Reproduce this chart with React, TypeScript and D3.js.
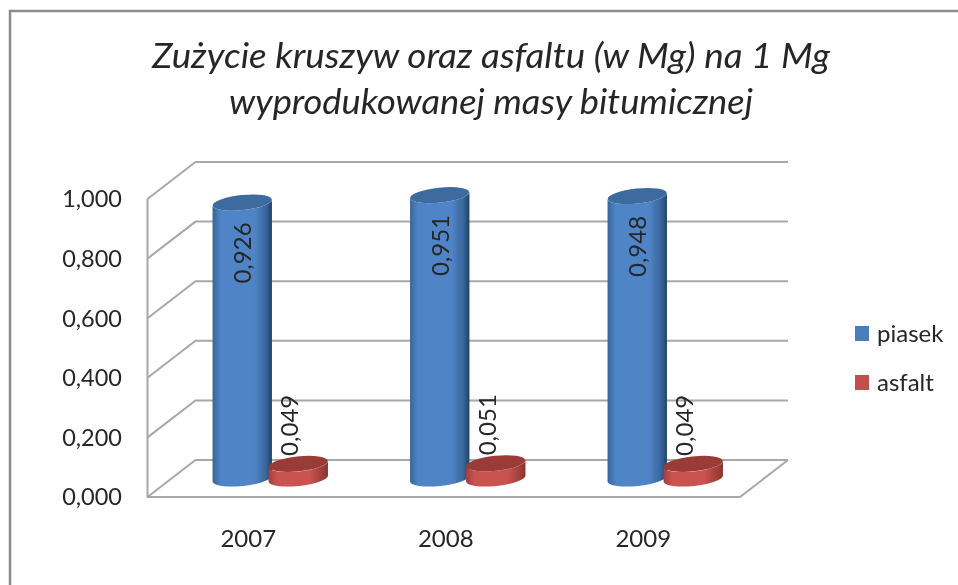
import React from "react";
import * as d3 from "d3";

const categories = ["2007", "2008", "2009"];
const piasek = [0.926, 0.951, 0.948];
const asfalt = [0.049, 0.051, 0.049];
const yTicks = [0, 0.2, 0.4, 0.6, 0.8, 1];
const titleLines = ["Zużycie kruszyw oraz asfaltu (w Mg) na 1 Mg", "wyprodukowanej masy bitumicznej"];
const titleWidths = [678, 524];
const seriesNames = ["piasek", "asfalt"];

const W = 958, H = 585;
const left = 147.5, right = 740, front0 = 497, plotH = 298;
const depthX = 48, depthY = -37;
const RX = 29.7, RY = 7.5, ROT = -6;
const FONT = "Lato, 'Open Sans', sans-serif";
const GRID = "#a8a8a8";
const INK = "#262626";

const x = d3.scaleBand<string>().domain(categories).range([left, right]);
const h = d3.scaleLinear().domain([0, 1]).range([0, plotH]);
const fmt = (v: number) => v.toFixed(3).replace(".", ",");

function Cylinder({ cx, value, fill, top }: { cx: number; value: number; fill: string; top: string }) {
  const base = front0 + depthY / 2;
  const t = base - h(value);
  const a = Math.tan((-ROT * Math.PI) / 180) * RX;
  const body = `M${cx - RX},${t + a} L${cx - RX},${base + a} A${RX},${RY} ${ROT} 0 0 ${cx + RX},${base - a} L${cx + RX},${t - a} A${RX},${RY} ${ROT} 0 1 ${cx - RX},${t + a} Z`;
  return (
    <g>
      <path d={body} fill={`url(#${fill})`} />
      <ellipse cx={cx} cy={t} rx={RX} ry={RY} fill={top} transform={`rotate(${ROT} ${cx} ${t})`} />
    </g>
  );
}

function Grad({ id, edge, mid, dark }: { id: string; edge: string; mid: string; dark: string }) {
  return (
    <linearGradient id={id} x1="0" x2="1" y1="0" y2="0">
      <stop offset="0" stopColor={edge} />
      <stop offset="0.14" stopColor={mid} />
      <stop offset="0.7" stopColor={mid} />
      <stop offset="0.9" stopColor={edge} />
      <stop offset="1" stopColor={dark} />
    </linearGradient>
  );
}

export default function App() {
  const groupCx = (c: string) => (x(c) as number) + x.bandwidth() / 2 + depthX / 2;
  return (
    <svg width={W} height={H} viewBox={`0 0 ${W} ${H}`} style={{ position: "fixed", left: 0, top: 0, background: "#fff" }}>
      <defs>
        <Grad id="gBlue" edge="#38659a" mid="#5085c6" dark="#1f4368" />
        <Grad id="gRed" edge="#a03f3c" mid="#c9524f" dark="#8a3330" />
        <filter id="soft" x="-5%" y="-5%" width="110%" height="110%">
          <feGaussianBlur stdDeviation="0.55" />
        </filter>
      </defs>
      <g filter="url(#soft)">
        <path d={`M10,${H} L10,11 L${W},11`} fill="none" stroke="#8c8c8c" strokeWidth={2.5} />

        {titleLines.map((l, i) => (
          <text
            key={l}
            x={491}
            y={68 + i * 46}
            textAnchor="middle"
            textLength={titleWidths[i]}
            lengthAdjust="spacingAndGlyphs"
            fontFamily={FONT}
            fontStyle="italic"
            fontSize={34}
            fill={INK}
          >
            {l}
          </text>
        ))}

        {yTicks.map((v) => {
          const yF = front0 - h(v);
          const yB = yF + depthY;
          return (
            <path key={v} d={`M${left},${yF} L${left + depthX},${yB} L${right + depthX},${yB}`} fill="none" stroke={GRID} strokeWidth={2} />
          );
        })}
        <path
          d={`M${left},${front0 - h(1)} L${left},${front0} L${right},${front0} L${right + depthX},${front0 + depthY}`}
          fill="none"
          stroke={GRID}
          strokeWidth={2}
        />

        {yTicks.map((v) => (
          <text key={v} x={122} y={front0 - h(v)} dy="0.36em" textAnchor="end" fontFamily={FONT} fontSize={23.5} fill={INK}>
            {fmt(v)}
          </text>
        ))}

        {categories.map((c, i) => {
          const cx = groupCx(c);
          const cxBlue = cx - 28;
          const cxRed = cx + 28;
          const base = front0 + depthY / 2;
          return (
            <g key={c}>
              <Cylinder cx={cxBlue} value={piasek[i]} fill="gBlue" top="#3c6b9f" />
              <Cylinder cx={cxRed} value={asfalt[i]} fill="gRed" top="#9a3b38" />
              <text
                transform={`translate(${cxBlue + 9},${base - h(piasek[i]) + 81}) rotate(-90)`}
                fontFamily={FONT}
                fontSize={24}
                fill={INK}
              >
                {fmt(piasek[i])}
              </text>
              <text
                transform={`translate(${cxRed + 0},${base - h(asfalt[i]) - 8}) rotate(-90)`}
                fontFamily={FONT}
                fontSize={24}
                fill={INK}
              >
                {fmt(asfalt[i])}
              </text>
              <text x={(x(c) as number) + x.bandwidth() / 2 + 2} y={547} textAnchor="middle" fontFamily={FONT} fontSize={24} fill={INK}>
                {c}
              </text>
            </g>
          );
        })}

        {seriesNames.map((n, i) => (
          <g key={n}>
            <rect x={855} y={326 + i * 49} width={14} height={15} fill={i === 0 ? "#4a7ebb" : "#c0504d"} />
            <text x={877} y={342 + i * 49} fontFamily={FONT} fontSize={24} fill={INK}>
              {n}
            </text>
          </g>
        ))}
      </g>
    </svg>
  );
}
